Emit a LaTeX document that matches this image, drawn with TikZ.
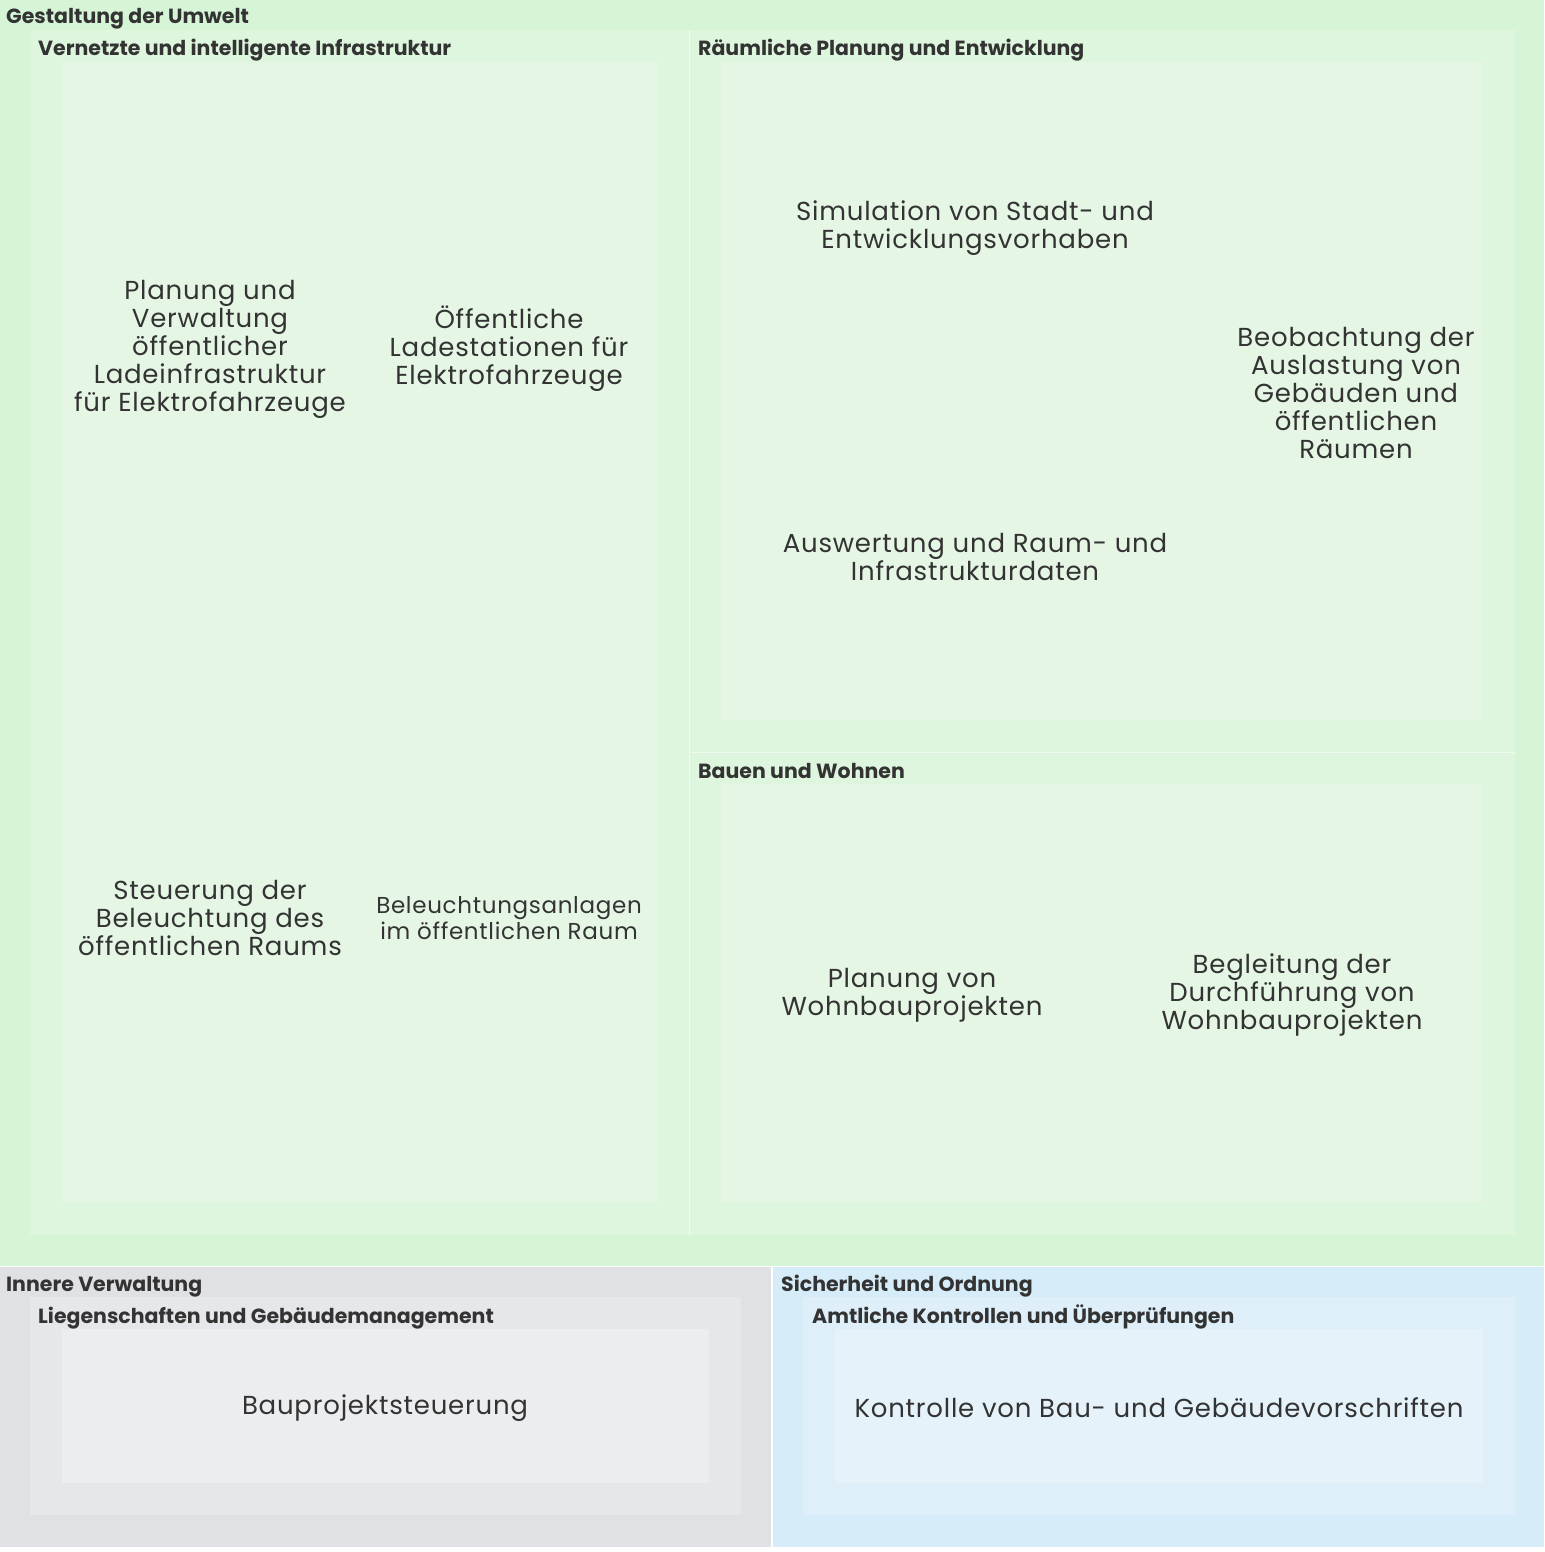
\documentclass[tikz,border=0pt]{standalone}
\usepackage{fontspec}
\setmainfont{Poppins}
\newfontfamily\leaffont[LetterSpace=3]{Poppins}
\definecolor{txt}{RGB}{51,51,51}
\definecolor{gA}{RGB}{214,245,214}
\definecolor{gB}{RGB}{222,246,222}
\definecolor{gC}{RGB}{229,246,229}
\definecolor{yA}{RGB}{224,225,228}
\definecolor{yB}{RGB}{230,231,234}
\definecolor{yC}{RGB}{236,237,239}
\definecolor{bA}{RGB}{214,236,248}
\definecolor{bB}{RGB}{222,239,249}
\definecolor{bC}{RGB}{229,242,250}
\tikzset{
  hdr/.style={anchor=base west,inner sep=0pt,text=txt,font=\fontsize{20.5}{24}\selectfont\bfseries},
  leaf/.style={align=center,inner sep=0pt,text=txt,font=\leaffont\fontsize{26}{28}\selectfont},
  leafs/.style={align=center,inner sep=0pt,text=txt,font=\leaffont\fontsize{23}{26.5}\selectfont}
}
\begin{document}
\begin{tikzpicture}[x=1pt,y=-1pt]
\useasboundingbox (0,0) rectangle (1544,1552);
\fill[white] (0,0) rectangle (1544,1552);
% level 1
\fill[gA] (0,0) rectangle (1544,1265.5);
\fill[yA] (0,1267) rectangle (771,1547);
\fill[bA] (773,1267) rectangle (1544,1547);
% level 2
\fill[gB] (30,30) rectangle (689,1235);
\fill[gB] (690,30) rectangle (1515,752);
\fill[gB] (690,753) rectangle (1515,1235);
\draw[white,line width=0.6pt,opacity=0.6] (689.5,30) -- (689.5,1235);
\draw[white,line width=0.6pt,opacity=0.6] (690,752.5) -- (1515,752.5);
\fill[yB] (30,1297) rectangle (741,1515);
\fill[bB] (803,1297) rectangle (1515,1515);
% level 3
\fill[gC] (62,62) rectangle (658,1202);
\fill[gC] (721,62) rectangle (1483,720);
\fill[gC] (721,784) rectangle (1483,1202);
\fill[yC] (62,1329) rectangle (709,1483);
\fill[bC] (835,1329) rectangle (1483,1483);
% headers
\node[hdr] (h1) at (6,24) {Gestaltung der Umwelt};
\node[hdr] (h2) at (38,56) {Vernetzte und intelligente Infrastruktur};
\node[hdr] (h3) at (698,56) {Räumliche Planung und Entwicklung};
\node[hdr] (h4) at (698,778) {Bauen und Wohnen};
\node[hdr] (h5) at (6,1291) {Innere Verwaltung};
\node[hdr] (h6) at (38,1323) {Liegenschaften und Gebäudemanagement};
\node[hdr] (h7) at (781,1291) {Sicherheit und Ordnung};
\node[hdr] (h8) at (812,1323) {Amtliche Kontrollen und Überprüfungen};
% leaves
\node[leaf] (l1) at (210,349) {Planung und\\Verwaltung\\öffentlicher\\Ladeinfrastruktur\\für Elektrofahrzeuge};
\node[leaf] (l2) at (509,349) {Öffentliche\\Ladestationen für\\Elektrofahrzeuge};
\node[leaf] (l3) at (210,918) {Steuerung der\\Beleuchtung des\\öffentlichen Raums};
\node[leafs] (l4) at (509,918) {Beleuchtungsanlagen\\im öffentlichen Raum};
\node[leaf] (l5) at (975,228) {Simulation von Stadt- und\\Entwicklungsvorhaben};
\node[leaf] (l6) at (1356,393) {Beobachtung der\\Auslastung von\\Gebäuden und\\öffentlichen\\Räumen};
\node[leaf] (l7) at (975,557) {Auswertung und Raum- und\\Infrastrukturdaten};
\node[leaf] (l8) at (912,995) {Planung von\\Wohnbauprojekten};
\node[leaf] (l9) at (1292,995) {Begleitung der\\Durchführung von\\Wohnbauprojekten};
\node[leaf] (l10) at (385,1408) {Bauprojektsteuerung};
\node[leaf] (l11) at (1159,1408) {Kontrolle von Bau- und Gebäudevorschriften};
\end{tikzpicture}
\end{document}
